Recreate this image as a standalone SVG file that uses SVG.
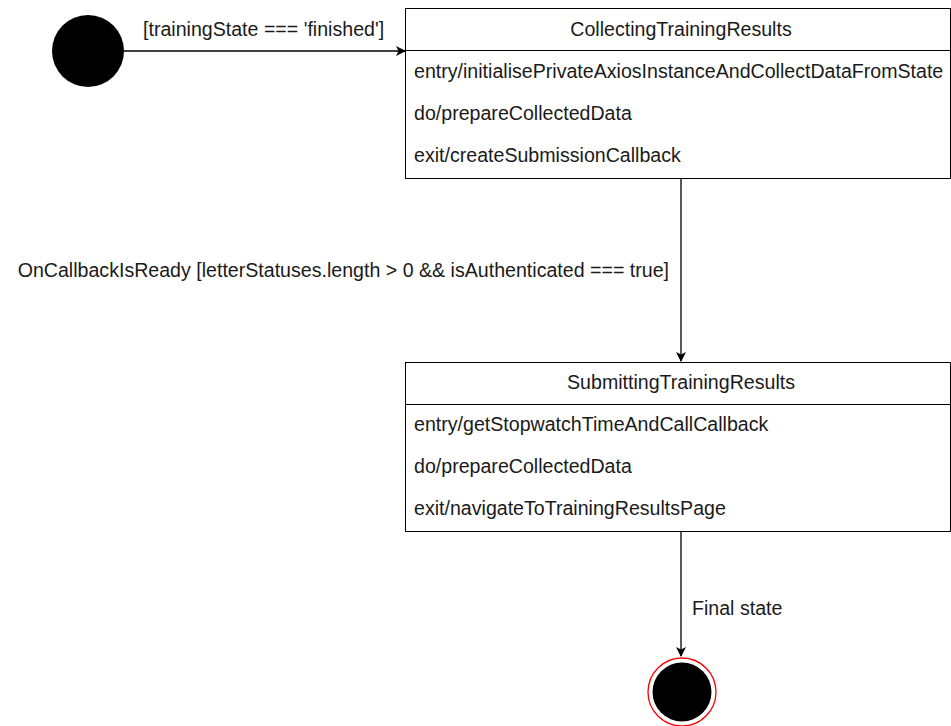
<svg xmlns="http://www.w3.org/2000/svg" width="951" height="726" viewBox="0 0 951 726">
<defs>
<style>
text{font-family:"Liberation Sans",Arial,sans-serif;font-size:19.6px;fill:#1a1a1a}
.box{fill:#fff;stroke:#000;stroke-width:1}
.line{fill:none;stroke:#000;stroke-width:1.3}
.mid{text-anchor:middle}
</style>
<marker id="arr" markerWidth="10" markerHeight="10" refX="9" refY="5" orient="auto" markerUnits="userSpaceOnUse">
<path d="M0,0 L10,5 L0,10 L2.5,5 Z" fill="#000"/>
</marker>
</defs>
<rect width="951" height="726" fill="#fff"/>
<g id="connectors">
<path class="line" d="M124,51 H405" marker-end="url(#arr)"/>
<text x="143" y="36">[trainingState === 'finished']</text>
<path class="line" d="M681,178 V361" marker-end="url(#arr)"/>
<text x="669" y="277" text-anchor="end">OnCallbackIsReady [letterStatuses.length &gt; 0 &amp;&amp; isAuthenticated === true]</text>
<path class="line" d="M681,531 V656" marker-end="url(#arr)"/>
<text x="692" y="615">Final state</text>
</g>
<g id="initial">
<circle cx="88" cy="51" r="36" fill="#000"/>
</g>
<g id="collecting">
<rect class="box" x="405.5" y="8.5" width="545" height="170"/>
<line x1="405.5" y1="50.5" x2="950.5" y2="50.5" stroke="#000"/>
<text class="mid" x="681" y="36">CollectingTrainingResults</text>
<text x="414" y="78">entry/initialisePrivateAxiosInstanceAndCollectDataFromState</text>
<text x="414" y="120">do/prepareCollectedData</text>
<text x="414" y="162">exit/createSubmissionCallback</text>
</g>
<g id="submitting">
<rect class="box" x="405.5" y="362.5" width="545" height="169"/>
<line x1="405.5" y1="404.5" x2="950.5" y2="404.5" stroke="#000"/>
<text class="mid" x="681" y="389">SubmittingTrainingResults</text>
<text x="414" y="431">entry/getStopwatchTimeAndCallCallback</text>
<text x="414" y="473">do/prepareCollectedData</text>
<text x="414" y="515">exit/navigateToTrainingResultsPage</text>
</g>
<g id="final">
<circle cx="682" cy="692" r="34" fill="#fff" stroke="#ff0000" stroke-width="1.3"/>
<circle cx="682" cy="692" r="29.5" fill="#000"/>
</g>
</svg>
